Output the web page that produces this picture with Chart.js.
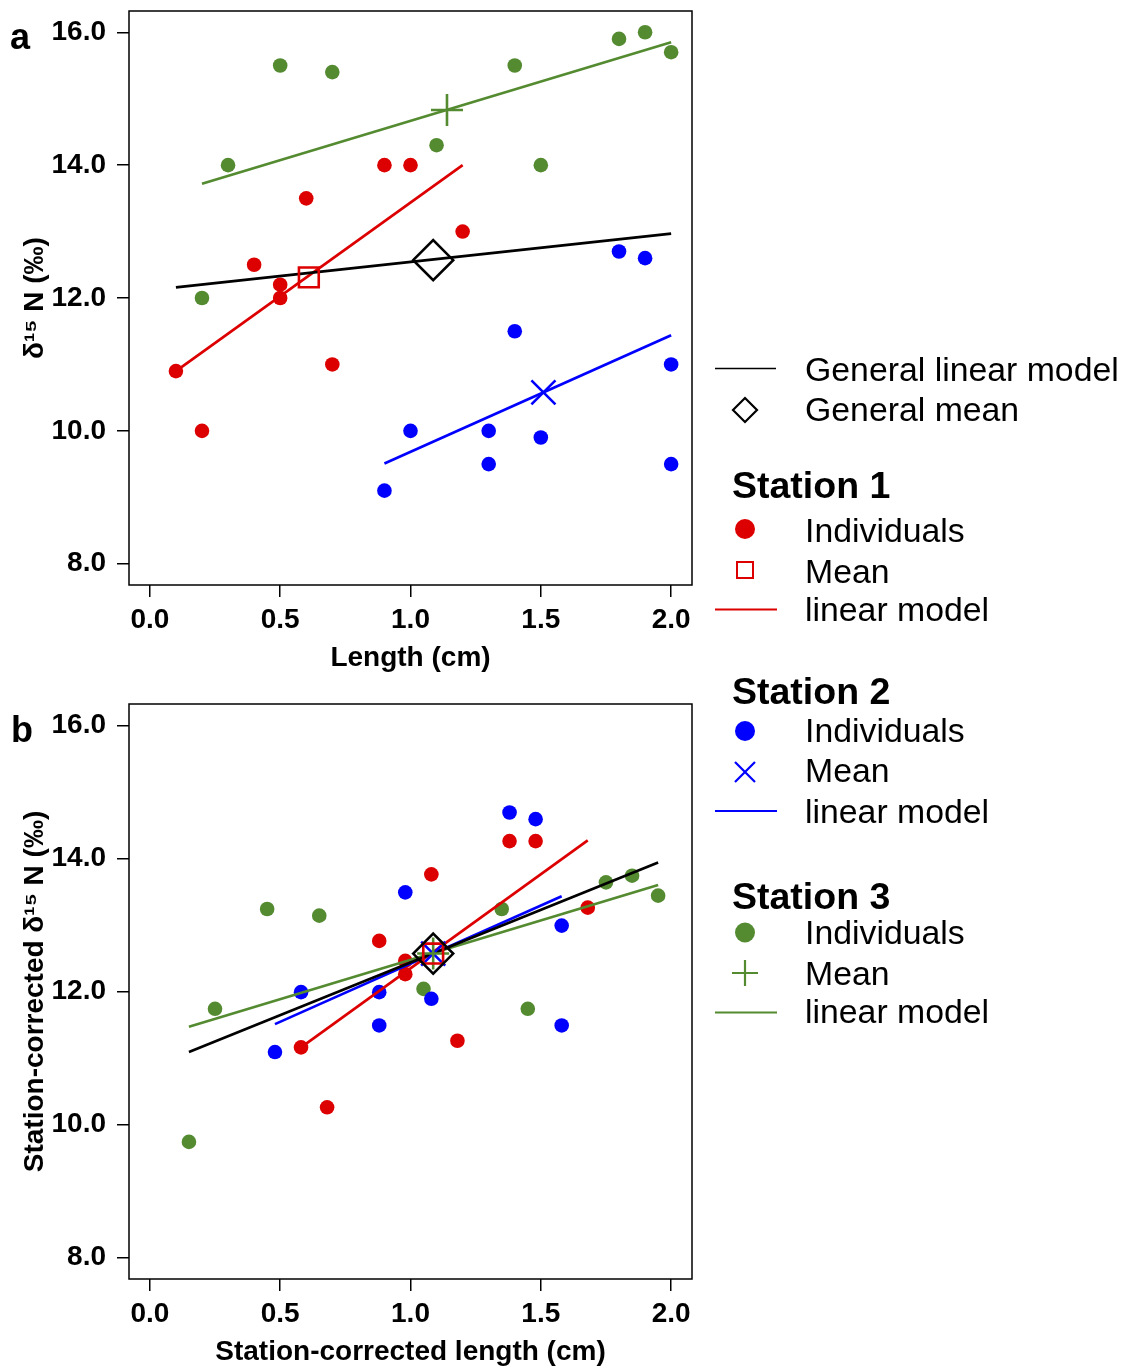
<!DOCTYPE html>
<html>
<head>
<meta charset="utf-8">
<script src="https://cdn.jsdelivr.net/npm/chart.js@4.4.0/dist/chart.umd.min.js"></script>
<style>
  body { margin: 0; background: #fff; width: 1124px; height: 1369px; position: relative; overflow: hidden;
         font-family: "Liberation Sans", Arial, sans-serif; color: #000; }
  .panel { position: absolute; left: 0; }
  .tag { position: absolute; font-weight: bold; font-size: 36px; line-height: 1; }
  .leg { position: absolute; font-size: 33.8px; line-height: 1; transform: translateY(-50%); white-space: nowrap; }
  .head { font-weight: bold; font-size: 37.5px; }
  #symbols { position: absolute; left: 0; top: 0; pointer-events: none; }
</style>
</head>
<body>
<div class="panel" style="top:0"><canvas id="chartA" width="700" height="693"></canvas></div>
<div class="panel" style="top:693px"><canvas id="chartB" width="700" height="676"></canvas></div>
<div class="tag" style="left:10px; top:19px">a</div>
<div class="tag" style="left:11px; top:712px">b</div>

<svg id="symbols" width="1124" height="1369">
  <line x1="715" y1="368.5" x2="776" y2="368.5" stroke="#000" stroke-width="1.3"/>
  <polygon points="745,398 757,410 745,422 733,410" fill="none" stroke="#000" stroke-width="2.2"/>
  <circle cx="745" cy="529" r="10" fill="#DD0000"/>
  <rect x="737" y="562" width="16" height="16" fill="none" stroke="#DD0000" stroke-width="2"/>
  <line x1="715" y1="609.5" x2="777" y2="609.5" stroke="#DD0000" stroke-width="2.2"/>
  <circle cx="745" cy="731" r="10" fill="#0000FF"/>
  <path d="M735,762 L755,782 M755,762 L735,782" stroke="#0000FF" stroke-width="2.2"/>
  <line x1="715" y1="811" x2="777" y2="811" stroke="#0000FF" stroke-width="2.2"/>
  <circle cx="745" cy="932.5" r="10" fill="#548B31"/>
  <path d="M732,973 L758,973 M745,960 L745,986" stroke="#548B31" stroke-width="2.2"/>
  <line x1="715" y1="1012.5" x2="777" y2="1012.5" stroke="#548B31" stroke-width="2.2"/>
</svg>

<div class="leg" style="left:805px; top:369.5px">General linear model</div>
<div class="leg" style="left:805px; top:410px">General mean</div>
<div class="leg head" style="left:732px; top:486px">Station 1</div>
<div class="leg" style="left:805px; top:531px">Individuals</div>
<div class="leg" style="left:805px; top:571.5px">Mean</div>
<div class="leg" style="left:805px; top:610px">linear model</div>
<div class="leg head" style="left:732px; top:691.5px">Station 2</div>
<div class="leg" style="left:805px; top:731px">Individuals</div>
<div class="leg" style="left:805px; top:771px">Mean</div>
<div class="leg" style="left:805px; top:811.5px">linear model</div>
<div class="leg head" style="left:732px; top:896.5px">Station 3</div>
<div class="leg" style="left:805px; top:932.5px">Individuals</div>
<div class="leg" style="left:805px; top:974px">Mean</div>
<div class="leg" style="left:805px; top:1011.5px">linear model</div>

<script>
// panel a: length (cm) and d15N (permil), one pair of arrays per station
const lenS1 = [0.1, 0.2, 0.4, 0.5, 0.5, 0.6, 0.7, 0.9, 1.0, 1.2];
const d15nS1 = [10.9, 10.0, 12.5, 12.2, 12.0, 13.5, 11.0, 14.0, 14.0, 13.0];
const lenS2 = [0.9, 1.0, 1.3, 1.3, 1.4, 1.5, 1.8, 1.9, 2.0, 2.0];
const d15nS2 = [9.1, 10.0, 10.0, 9.5, 11.5, 9.9, 12.7, 12.6, 11.0, 9.5];
const lenS3 = [0.2, 0.3, 0.5, 0.7, 1.1, 1.4, 1.5, 1.8, 1.9, 2.0];
const d15nS3 = [12.0, 14.0, 15.5, 15.4, 14.3, 15.5, 14.0, 15.9, 16.0, 15.7];

// means [length, d15N]
const meanS1 = [0.61, 12.31];
const meanS2 = [1.51, 10.58];
const meanS3 = [1.14, 14.83];
const meanAll = [1.087, 12.57];

// fitted lines (start/end)
const fitAllX = [0.1, 2.0], fitAllY = [12.16, 12.97];
const fitS1X = [0.1, 1.2], fitS1Y = [10.9, 14.0];
const fitS2X = [0.9, 2.0], fitS2Y = [9.51, 11.44];
const fitS3X = [0.2, 2.0], fitS3Y = [13.72, 15.85];

// panel b: station-corrected values
const cLenS1 = [0.58, 0.68, 0.88, 0.98, 0.98, 1.08, 1.18, 1.38, 1.48, 1.68];
const cD15nS1 = [11.16, 10.26, 12.76, 12.46, 12.26, 13.76, 11.26, 14.26, 14.26, 13.26];
const cLenS2 = [0.48, 0.58, 0.88, 0.88, 0.98, 1.08, 1.38, 1.48, 1.58, 1.58];
const cD15nS2 = [11.09, 11.99, 11.99, 11.49, 13.49, 11.89, 14.69, 14.59, 12.99, 11.49];
const cLenS3 = [0.15, 0.25, 0.45, 0.65, 1.05, 1.35, 1.45, 1.75, 1.85, 1.95];
const cD15nS3 = [9.74, 11.74, 13.24, 13.14, 12.04, 13.24, 11.74, 13.64, 13.74, 13.44];

const cMeanS1 = [1.087, 12.57];
const cMeanS2 = [1.087, 12.57];
const cMeanS3 = [1.087, 12.57];
const cMeanAll = [1.087, 12.57];

const cFitAllX = [0.15, 1.95], cFitAllY = [11.09, 13.94];
const cFitS1X = [0.58, 1.68], cFitS1Y = [11.16, 14.27];
const cFitS2X = [0.48, 1.58], cFitS2Y = [11.51, 13.43];
const cFitS3X = [0.15, 1.95], cFitS3Y = [11.47, 13.60];

const RED = '#DD0000', BLUE = '#0000FF', GREEN = '#548B31';

function pts(xs, ys) {
    return xs.map((x, i) => ({x: x, y: ys[i]}));
}

function meanSet(m, style, r, color) {
    return {data: [{x: m[0], y: m[1]}], pointStyle: style, pointRadius: r,
            borderColor: color, backgroundColor: 'rgba(0,0,0,0)', pointBorderWidth: 2.6};
}

function lineSet(xs, ys, color) {
    return {data: pts(xs, ys), showLine: true, pointRadius: 0, borderColor: color, borderWidth: 2.7};
}

function dotSet(xs, ys, color) {
    return {data: pts(xs, ys), pointRadius: 7.3, backgroundColor: color, borderWidth: 0};
}

// draws the box round the plot area
const frame = {
    id: 'frame',
    afterDraw(chart) {
        const {ctx, chartArea: a} = chart;
        ctx.save();
        ctx.strokeStyle = '#000';
        ctx.lineWidth = 1.5;
        ctx.strokeRect(a.left, a.top, a.right - a.left, a.bottom - a.top);
        ctx.restore();
    }
};

// fixed axis size, and no extra room for labels sticking out
function fixSize(s, w, h) {
    if (w) s.width = w;
    if (h) s.height = h;
    s.paddingTop = 0;
    s.paddingBottom = 0;
    s.paddingLeft = 0;
    s.paddingRight = 0;
}

const tickFont = {family: 'Liberation Sans', size: 28, weight: 'bold'};

function makeOptions(xTitle, yTitle, xAxisHeight, xTitlePad) {
    return {
        responsive: false,
        animation: false,
        layout: {autoPadding: false, padding: {top: 11, right: 8, left: 0, bottom: 0}},
        plugins: {legend: {display: false}, tooltip: {enabled: false}},
        scales: {
            x: {
                type: 'linear', min: -0.08, max: 2.08,
                afterFit: (s) => fixSize(s, 0, xAxisHeight),
                border: {display: false},
                grid: {drawOnChartArea: false, tickLength: 12, color: '#000', lineWidth: 1.5},
                ticks: {stepSize: 0.5, includeBounds: false, font: tickFont, color: '#000', padding: 6,
                        maxRotation: 0, callback: (v) => Number(v).toFixed(1)},
                title: {display: true, text: xTitle, font: tickFont, color: '#000',
                        padding: {top: 0, bottom: xTitlePad}}
            },
            y: {
                type: 'linear', min: 7.68, max: 16.32,
                afterFit: (s) => fixSize(s, 129, 0),
                border: {display: false},
                grid: {drawOnChartArea: false, tickLength: 12, color: '#000', lineWidth: 1.5},
                ticks: {stepSize: 2, includeBounds: false, font: tickFont, color: '#000', padding: 11,
                        callback: (v) => Number(v).toFixed(1)},
                title: {display: true, text: yTitle, font: tickFont, color: '#000',
                        padding: {top: 18, bottom: 0}}
            }
        }
    };
}

new Chart(document.getElementById('chartA'), {
    type: 'scatter',
    data: {
        datasets: [
            meanSet(meanAll, 'rectRot', 20, '#000'),
            meanSet(meanS1, 'rect', 14, RED),
            meanSet(meanS2, 'crossRot', 17, BLUE),
            meanSet(meanS3, 'cross', 16, GREEN),
            lineSet(fitAllX, fitAllY, '#000'),
            lineSet(fitS1X, fitS1Y, RED),
            lineSet(fitS2X, fitS2Y, BLUE),
            lineSet(fitS3X, fitS3Y, GREEN),
            dotSet(lenS1, d15nS1, RED),
            dotSet(lenS2, d15nS2, BLUE),
            dotSet(lenS3, d15nS3, GREEN)
        ]
    },
    options: makeOptions('Length (cm)', 'δ¹⁵ N (‰)', 108, 18),
    plugins: [frame]
});

new Chart(document.getElementById('chartB'), {
    type: 'scatter',
    data: {
        datasets: [
            meanSet(cMeanAll, 'rectRot', 20, '#000'),
            meanSet(cMeanS1, 'rect', 14, RED),
            meanSet(cMeanS3, 'cross', 16, GREEN),
            meanSet(cMeanS2, 'crossRot', 17, BLUE),
            lineSet(cFitAllX, cFitAllY, '#000'),
            lineSet(cFitS1X, cFitS1Y, RED),
            lineSet(cFitS2X, cFitS2Y, BLUE),
            lineSet(cFitS3X, cFitS3Y, GREEN),
            dotSet(cLenS1, cD15nS1, RED),
            dotSet(cLenS2, cD15nS2, BLUE),
            dotSet(cLenS3, cD15nS3, GREEN)
        ]
    },
    options: makeOptions('Station-corrected length (cm)', 'Station-corrected δ¹⁵ N (‰)', 90, 0),
    plugins: [frame]
});
</script>
</body>
</html>
